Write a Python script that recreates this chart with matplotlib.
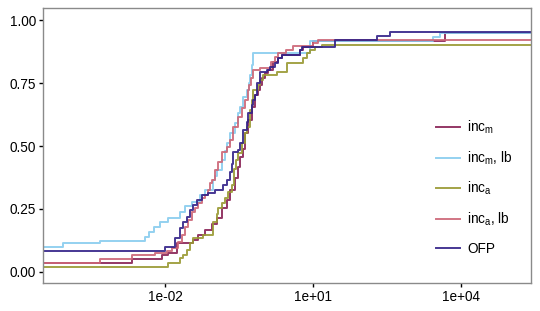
#!/usr/bin/env python
# -*- coding: utf-8 -*-

import numpy as np
import matplotlib
matplotlib.use("Agg")
from matplotlib import pyplot as plt

plt.rcParams["font.family"] = ["Liberation Sans", "DejaVu Sans"]
plt.rcParams["mathtext.default"] = "regular"

# ECDF steps: jump positions (log10 of x) and level after each jump
labels = ["inc$_{m}$", "inc$_{m}$, lb", "inc$_{a}$", "inc$_{a}$, lb", "OFP"]
colors = ["#882255", "#88CCEE", "#999933", "#CC6677", "#332288"]

inc_m_start = 0.036
inc_m_logx = [-2.66, -2.05, -1.94, -1.76, -1.43, -1.33, -1.19, -1.05, -0.95, -0.85, -0.74, -0.68,
              -0.58, -0.52, -0.48, -0.42, -0.38, -0.32, -0.24, -0.18, -0.12, -0.07, -0.03, 0.03,
              0.09, 0.19, 0.29, 0.37, 0.74, 0.80, 1.00, 3.68]
inc_m_y = [0.052, 0.067, 0.075, 0.115, 0.127, 0.147, 0.167, 0.190, 0.214, 0.254, 0.286, 0.325,
           0.373, 0.417, 0.456, 0.490, 0.552, 0.603, 0.655, 0.702, 0.722, 0.742, 0.770, 0.790,
           0.802, 0.833, 0.849, 0.861, 0.881, 0.893, 0.917, 0.948]

inc_m_lb_start = 0.100
inc_m_lb_logx = [-4.06, -3.32, -2.40, -2.33, -2.22, -2.10, -1.94, -1.70, -1.59, -1.45, -1.29, -1.19,
                 -1.03, -0.99, -0.95, -0.85, -0.79, -0.74, -0.68, -0.58, -0.52, -0.48, -0.42, -0.34,
                 -0.30, -0.28, -0.24, -0.22, 0.94, 3.43, 3.58]
inc_m_lb_y = [0.115, 0.123, 0.139, 0.160, 0.180, 0.198, 0.214, 0.238, 0.262, 0.278, 0.306, 0.325,
              0.365, 0.380, 0.405, 0.444, 0.480, 0.512, 0.552, 0.591, 0.630, 0.655, 0.694, 0.722,
              0.750, 0.782, 0.821, 0.869, 0.917, 0.933, 0.948]

inc_a_start = 0.020
inc_a_logx = [-1.94, -1.70, -1.64, -1.55, -1.49, -1.43, -1.23, -1.03, -0.95, -0.92, -0.85, -0.78,
              -0.72, -0.64, -0.60, -0.56, -0.52, -0.44, -0.38, -0.34, -0.28, -0.24, -0.22, -0.12,
              -0.07, -0.01, 0.27, 0.47, 0.80, 0.88, 0.94, 1.04, 1.18]
inc_a_y = [0.036, 0.056, 0.067, 0.087, 0.115, 0.135, 0.147, 0.198, 0.230, 0.254, 0.274, 0.294,
           0.317, 0.345, 0.410, 0.444, 0.472, 0.512, 0.552, 0.575, 0.643, 0.683, 0.722, 0.742,
           0.762, 0.782, 0.794, 0.829, 0.849, 0.869, 0.881, 0.893, 0.901]

inc_a_lb_start = 0.036
inc_a_lb_logx = [-3.32, -2.67, -2.20, -1.96, -1.86, -1.74, -1.66, -1.60, -1.53, -1.45, -1.39, -1.33,
                 -1.25, -1.19, -1.13, -1.09, -1.05, -0.99, -0.93, -0.85, -0.74, -0.68, -0.62, -0.52,
                 -0.44, -0.38, -0.32, -0.30, -0.26, -0.22, -0.07, 0.15, 0.23, 0.30, 0.45, 0.60,
                 1.00, 1.10]
inc_a_lb_y = [0.050, 0.067, 0.075, 0.083, 0.095, 0.119, 0.147, 0.179, 0.206, 0.238, 0.254, 0.274,
              0.294, 0.306, 0.325, 0.353, 0.365, 0.405, 0.437, 0.476, 0.496, 0.524, 0.575, 0.615,
              0.651, 0.683, 0.722, 0.742, 0.770, 0.800, 0.810, 0.833, 0.853, 0.869, 0.881, 0.897,
              0.909, 0.921]

ofp_start = 0.083
ofp_logx = [-2.00, -1.80, -1.70, -1.64, -1.55, -1.49, -1.43, -1.35, -1.25, -1.13, -0.99, -0.82,
            -0.74, -0.68, -0.64, -0.62, -0.52, -0.48, -0.42, -0.34, -0.32, -0.24, -0.22, -0.18,
            -0.13, -0.07, 0.07, 0.13, 0.23, 0.29, 0.37, 0.74, 0.78, 1.45, 2.30, 2.56]
ofp_y = [0.100, 0.135, 0.175, 0.198, 0.218, 0.246, 0.266, 0.286, 0.306, 0.313, 0.325, 0.345,
         0.365, 0.397, 0.430, 0.476, 0.484, 0.512, 0.563, 0.595, 0.631, 0.663, 0.683, 0.702,
         0.750, 0.794, 0.802, 0.813, 0.829, 0.849, 0.861, 0.881, 0.893, 0.921, 0.937, 0.951]

x_ticks = [1e-2, 1e1, 1e4]
x_tick_labels = ["1e-02", "1e+01", "1e+04"]
y_ticks = [0.0, 0.25, 0.5, 0.75, 1.0]
y_tick_labels = ["0.00", "0.25", "0.50", "0.75", "1.00"]


def plot_ecdf(out):
    series = [
        (inc_m_start, inc_m_logx, inc_m_y),
        (inc_m_lb_start, inc_m_lb_logx, inc_m_lb_y),
        (inc_a_start, inc_a_logx, inc_a_y),
        (inc_a_lb_start, inc_a_lb_logx, inc_a_lb_y),
        (ofp_start, ofp_logx, ofp_y),
    ]
    x_min, x_max = 10 ** -4.47, 10 ** 5.42

    fig = plt.figure(figsize=(5.4, 3.11), dpi=100)
    ax = fig.add_axes([43 / 540, 1 - 283 / 311, 488 / 540, 275 / 311])

    for (start, logx, ys), label, color in zip(series, labels, colors):
        x = [x_min] + list(10 ** np.array(logx)) + [x_max]
        y = [start] + list(ys) + [ys[-1]]
        ax.step(x, y, where="post", color=color, lw=1.4, alpha=0.9, label=label)

    ax.set_xscale("log")
    ax.set_xlim(x_min, x_max)
    ax.set_ylim(-0.044, 1.048)
    ax.set_xticks(x_ticks)
    ax.set_xticklabels(x_tick_labels)
    ax.minorticks_off()
    ax.set_yticks(y_ticks)
    ax.set_yticklabels(y_tick_labels)
    ax.tick_params(length=3, width=1, color="black", labelsize=9.8, labelcolor="black", pad=2)
    for sp in ax.spines.values():
        sp.set_color("#8a8a8a")
        sp.set_linewidth(1)

    ax.legend(loc="center left", bbox_to_anchor=(0.805, 0.349), frameon=False, fontsize=9.8,
              borderpad=0, borderaxespad=0, handlelength=1.75, handletextpad=0.55, labelspacing=0.98)

    fig.savefig(out, dpi=100)


if __name__ == "__main__":
    plot_ecdf("out.png")
